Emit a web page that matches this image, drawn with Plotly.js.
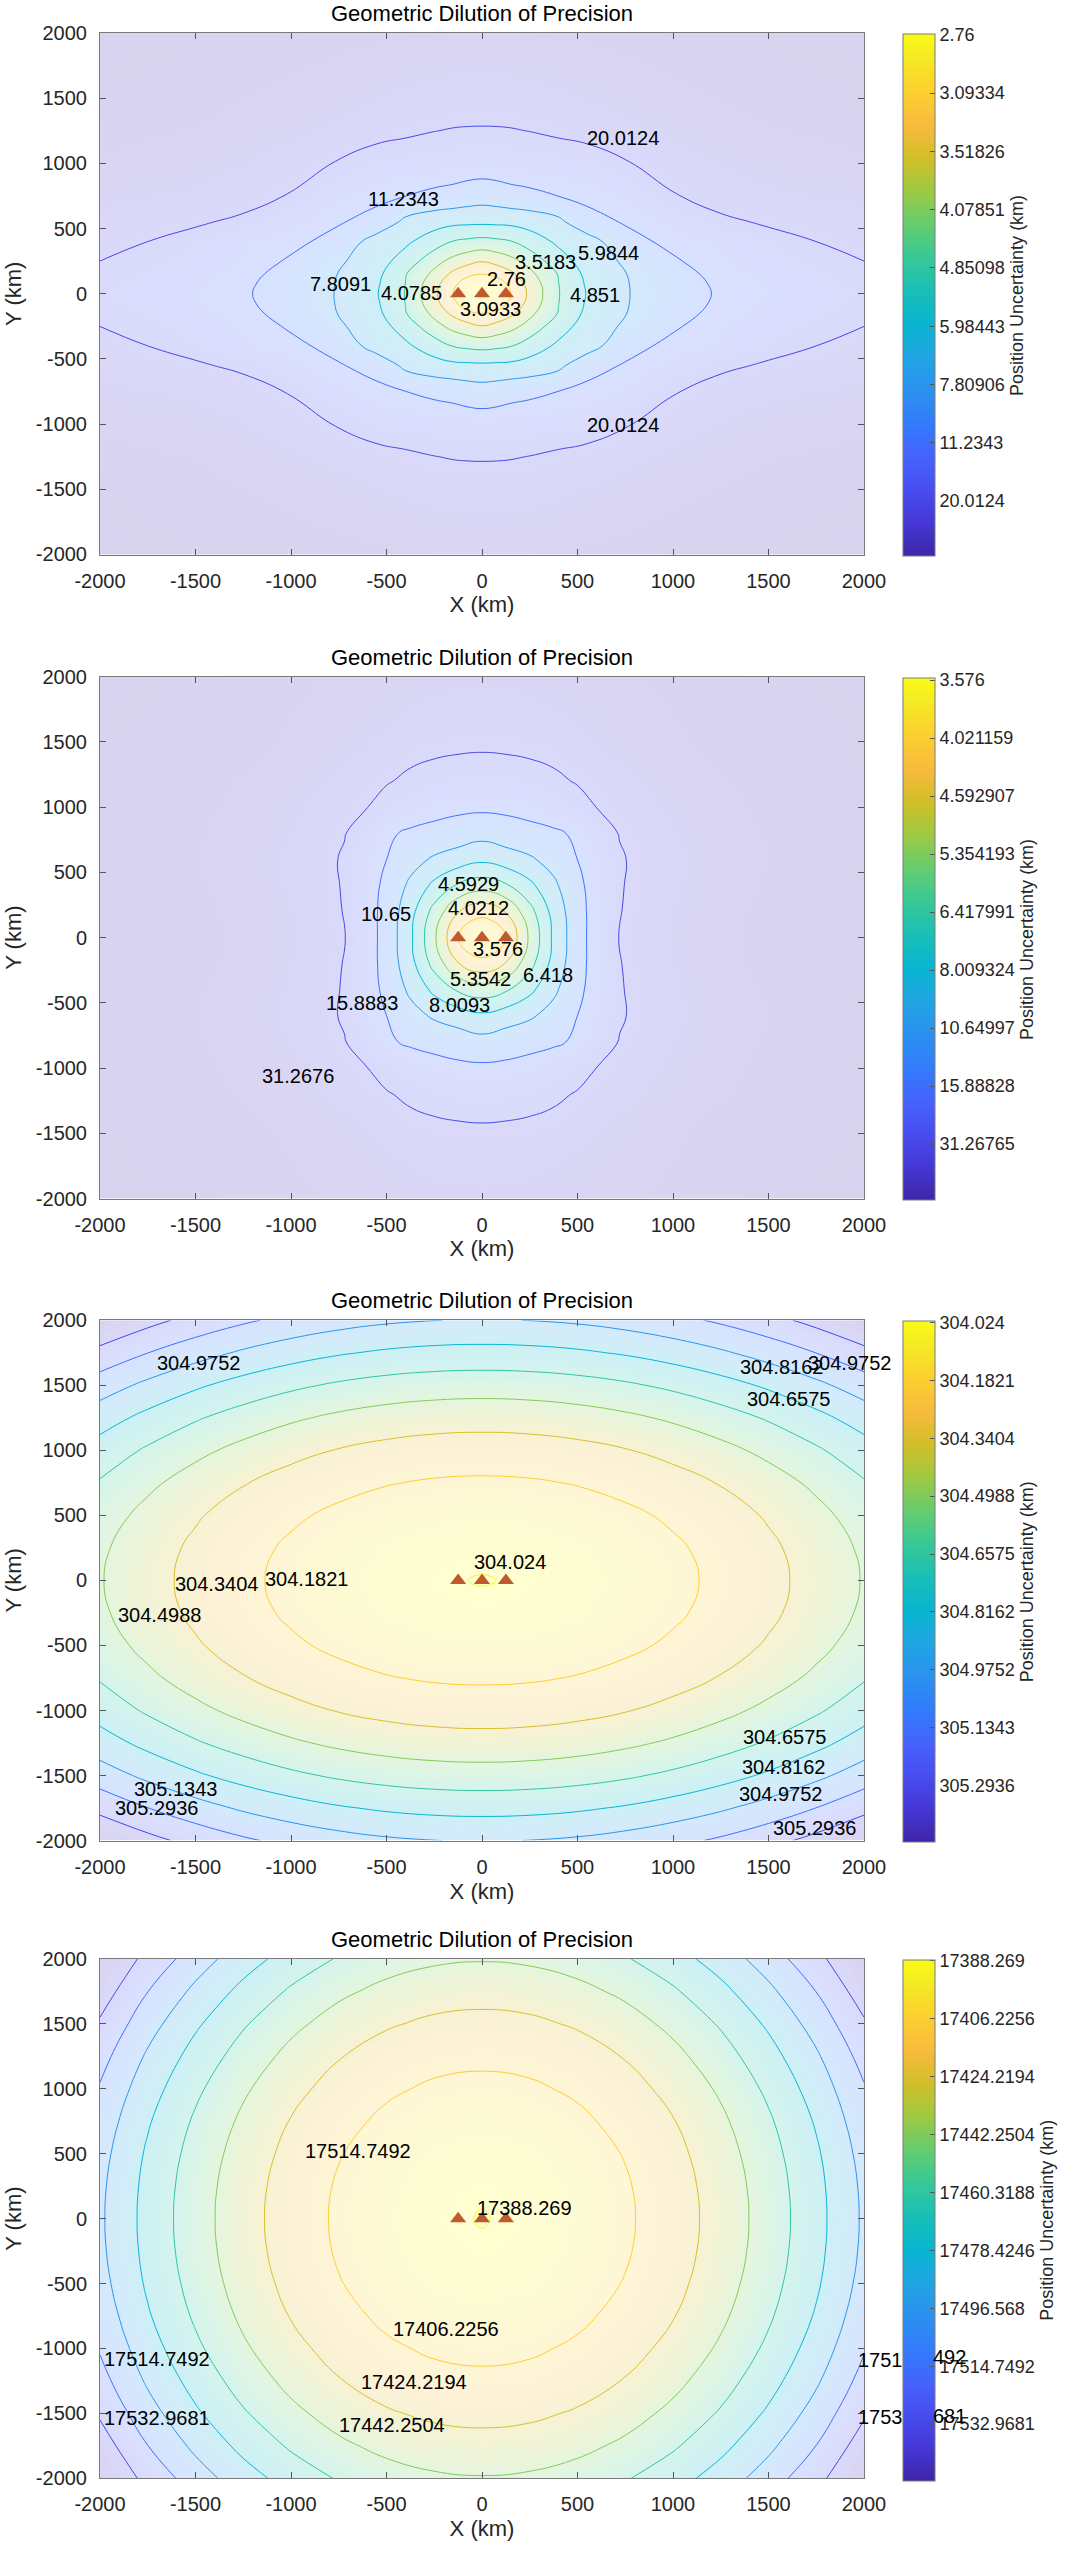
<!DOCTYPE html>
<html>
<head>
<meta charset="utf-8">
<script src="https://cdn.plot.ly/plotly-3.0.1.min.js"></script>
<style>html,body{margin:0;padding:0;background:#fff}#chart{width:1070px;height:2551px}</style>
</head>
<body>
<div id="chart"></div>
<script>
// ---------------- DATA ----------------
const axisTicks = [-2000,-1500,-1000,-500,0,500,1000,1500,2000];
const axisTickText = ['-2000','-1500','-1000','-500','0','500','1000','1500','2000'];
const sensorX = [-125, 0, 125];
const sensorY = [0, 0, 0];
const chartTitle = 'Geometric Dilution of Precision';
const colorbarTitle = 'Position Uncertainty (km)';

// Panel 1: GDOP (km) read on a grid
const gridX1 = [-2000,-1500,-1250,-1000,-750,-550,-400,-250,-150,-75,0,75,150,250,400,550,750,1000,1250,1500,2000];
const gridY1 = [-2000,-1500,-1250,-1000,-750,-550,-400,-250,-150,-75,0,75,150,250,400,550,750,1000,1250,1500,2000];
const gdop1 = [
[77.69,67.463,62.52,58.251,53.398,50.251,47.459,45.763,44.185,44.185,44.185,44.185,44.185,45.763,47.459,50.251,53.398,58.251,62.52,67.463,77.69],
[64.082,53.398,45.763,40.675,35.101,30.87,28.468,26.969,26.144,26.144,26.144,26.144,26.144,26.969,28.468,30.87,35.101,40.675,45.763,53.398,64.082],
[53.398,44.185,37.685,32.851,27.55,23.723,21.711,20.172,19.556,19.334,19.262,19.334,19.556,20.172,21.711,23.723,27.55,32.851,37.685,44.185,53.398],
[42.71,35.101,30.87,26.144,19.262,16.214,15.716,15.248,14.807,14.473,14.392,14.473,14.807,15.248,15.716,16.214,19.262,26.144,30.87,35.101,42.71],
[32.851,29.116,26.144,19.262,14.075,12.169,11.27,10.329,9.89,9.362,9.051,9.362,9.89,10.329,11.27,12.169,14.075,19.262,26.144,29.116,32.851],
[27.55,21.529,17.915,14.392,11.518,10.073,7.256,6.568,6.34,6.278,6.247,6.278,6.34,6.568,7.256,10.073,11.518,14.392,17.915,21.529,27.55],
[24.874,16.743,13.847,12.169,10.157,6.776,6.232,5.359,4.806,4.674,4.59,4.674,4.806,5.359,6.232,6.776,10.157,12.169,13.847,16.743,24.874],
[20.0,15.716,13.273,10.819,8.184,6.602,5.473,4.319,3.893,3.685,3.543,3.685,3.893,4.319,5.473,6.602,8.184,10.819,13.273,15.716,20.0],
[18.837,14.392,12.532,9.928,7.738,6.34,4.897,3.922,3.401,3.178,3.086,3.178,3.401,3.922,4.897,6.34,7.738,9.928,12.532,14.392,18.837],
[17.915,13.922,11.914,9.74,7.669,6.157,4.833,3.696,3.174,2.917,2.833,2.917,3.174,3.696,4.833,6.157,7.669,9.74,11.914,13.922,17.915],
[17.31,13.626,11.697,9.666,7.646,6.055,4.806,3.618,3.093,2.836,2.758,2.836,3.093,3.618,4.806,6.055,7.646,9.666,11.697,13.626,17.31],
[17.915,13.922,11.914,9.74,7.669,6.157,4.833,3.696,3.174,2.917,2.833,2.917,3.174,3.696,4.833,6.157,7.669,9.74,11.914,13.922,17.915],
[18.837,14.392,12.532,9.928,7.738,6.34,4.897,3.922,3.401,3.178,3.086,3.178,3.401,3.922,4.897,6.34,7.738,9.928,12.532,14.392,18.837],
[20.0,15.716,13.273,10.819,8.184,6.602,5.473,4.319,3.893,3.685,3.543,3.685,3.893,4.319,5.473,6.602,8.184,10.819,13.273,15.716,20.0],
[24.874,16.743,13.847,12.169,10.157,6.776,6.232,5.359,4.806,4.674,4.59,4.674,4.806,5.359,6.232,6.776,10.157,12.169,13.847,16.743,24.874],
[27.55,21.529,17.915,14.392,11.518,10.073,7.256,6.568,6.34,6.278,6.247,6.278,6.34,6.568,7.256,10.073,11.518,14.392,17.915,21.529,27.55],
[32.851,29.116,26.144,19.262,14.075,12.169,11.27,10.329,9.89,9.362,9.051,9.362,9.89,10.329,11.27,12.169,14.075,19.262,26.144,29.116,32.851],
[42.71,35.101,30.87,26.144,19.262,16.214,15.716,15.248,14.807,14.473,14.392,14.473,14.807,15.248,15.716,16.214,19.262,26.144,30.87,35.101,42.71],
[53.398,44.185,37.685,32.851,27.55,23.723,21.711,20.172,19.556,19.334,19.262,19.334,19.556,20.172,21.711,23.723,27.55,32.851,37.685,44.185,53.398],
[64.082,53.398,45.763,40.675,35.101,30.87,28.468,26.969,26.144,26.144,26.144,26.144,26.144,26.969,28.468,30.87,35.101,40.675,45.763,53.398,64.082],
[77.69,67.463,62.52,58.251,53.398,50.251,47.459,45.763,44.185,44.185,44.185,44.185,44.185,45.763,47.459,50.251,53.398,58.251,62.52,67.463,77.69]
];
const levels1 = ['2.76','3.09334','3.51826','4.07851','4.85098','5.98443','7.80906','11.2343','20.0124'];
const labels1 = ['20.0124','11.2343','7.8091','4.0785','2.76','3.5183','5.9844','4.851','3.0933','20.0124'];

// Panel 2
const gridX2 = [-2000,-1600,-1200,-900,-720,-600,-500,-375,-250,-125,0,125,250,375,500,600,720,900,1200,1600,2000];
const gridY2 = [-2000,-1700,-1450,-1200,-1000,-800,-600,-400,-200,0,200,400,600,800,1000,1200,1450,1700,2000];
const gdop2 = [
[507.6,220.12,151.03,112.17,94.19,84.417,77.628,70.882,66.063,63.171,62.208,63.171,66.063,70.882,77.628,84.417,94.19,112.17,151.03,220.12,507.6],
[291.72,202.84,133.78,94.913,76.923,67.155,60.365,53.622,48.802,45.91,44.946,45.91,48.802,53.622,60.365,67.155,76.923,94.913,133.78,202.84,291.72],
[279.41,190.62,121.52,82.665,64.675,54.903,48.119,36.64,34.54,33.327,32.697,33.327,34.54,36.64,48.119,54.903,64.675,82.665,121.52,190.62,279.41],
[231.37,155.02,95.621,62.208,46.744,38.345,32.511,28.49,26.035,24.414,23.607,24.414,26.035,28.49,32.511,38.345,46.744,62.208,95.621,155.02,231.37],
[217.25,143.66,86.453,54.262,39.365,31.447,26.254,22.267,18.692,17.699,17.382,17.699,18.692,22.267,26.254,31.447,39.365,54.262,86.453,143.66,217.25],
[204.16,133.51,78.561,47.653,32.157,23.578,17.094,14.815,14.047,12.961,12.031,12.961,14.047,14.815,17.094,23.578,32.157,47.653,78.561,133.51,204.16],
[193.61,125.45,72.443,42.629,29.382,19.715,15.92,12.133,10.193,9.238,8.448,9.238,10.193,12.133,15.92,19.715,29.382,42.629,72.443,125.45,193.61],
[212.22,136.57,77.754,44.665,29.829,19.124,14.518,9.997,7.564,6.271,5.797,6.271,7.564,9.997,14.518,19.124,29.829,44.665,77.754,136.57,212.22],
[234.08,150.04,84.653,47.872,30.51,19.259,13.768,8.758,6.001,4.627,4.186,4.627,6.001,8.758,13.768,19.259,30.51,47.872,84.653,150.04,234.08],
[246.73,157.93,88.834,49.965,31.977,19.516,13.61,8.411,5.501,4.009,3.565,4.009,5.501,8.411,13.61,19.516,31.977,49.965,88.834,157.93,246.73],
[234.08,150.04,84.653,47.872,30.51,19.259,13.768,8.758,6.001,4.627,4.186,4.627,6.001,8.758,13.768,19.259,30.51,47.872,84.653,150.04,234.08],
[212.22,136.57,77.754,44.665,29.829,19.124,14.518,9.997,7.564,6.271,5.797,6.271,7.564,9.997,14.518,19.124,29.829,44.665,77.754,136.57,212.22],
[193.61,125.45,72.443,42.629,29.382,19.715,15.92,12.133,10.193,9.238,8.448,9.238,10.193,12.133,15.92,19.715,29.382,42.629,72.443,125.45,193.61],
[204.16,133.51,78.561,47.653,32.157,23.578,17.094,14.815,14.047,12.961,12.031,12.961,14.047,14.815,17.094,23.578,32.157,47.653,78.561,133.51,204.16],
[217.25,143.66,86.453,54.262,39.365,31.447,26.254,22.267,18.692,17.699,17.382,17.699,18.692,22.267,26.254,31.447,39.365,54.262,86.453,143.66,217.25],
[231.37,155.02,95.621,62.208,46.744,38.345,32.511,28.49,26.035,24.414,23.607,24.414,26.035,28.49,32.511,38.345,46.744,62.208,95.621,155.02,231.37],
[279.41,190.62,121.52,82.665,64.675,54.903,48.119,36.64,34.54,33.327,32.697,33.327,34.54,36.64,48.119,54.903,64.675,82.665,121.52,190.62,279.41],
[291.72,202.84,133.78,94.913,76.923,67.155,60.365,53.622,48.802,45.91,44.946,45.91,48.802,53.622,60.365,67.155,76.923,94.913,133.78,202.84,291.72],
[507.6,220.12,151.03,112.17,94.19,84.417,77.628,70.882,66.063,63.171,62.208,63.171,66.063,70.882,77.628,84.417,94.19,112.17,151.03,220.12,507.6]
];
const levels2 = ['3.576','4.021159','4.592907','5.354193','6.417991','8.009324','10.64997','15.88828','31.26765'];
const labels2 = ['4.5929','4.0212','10.65','3.576','5.3542','6.418','15.8883','8.0093','31.2676'];

// Panel 3
const gridX3 = [-2000,-1750,-1500,-1250,-1000,-750,-500,-250,0,250,500,750,1000,1250,1500,1750,2000];
const gridY3 = [-2000,-1750,-1500,-1250,-1000,-750,-500,-250,0,250,500,750,1000,1250,1500,1750,2000];
const gdop3 = [
[305.4498,305.342,305.2429,305.1591,305.0905,305.0372,304.9992,304.9765,304.9688,304.9765,304.9992,305.0372,305.0905,305.1591,305.2429,305.342,305.4498],
[305.2502,305.1362,305.0372,304.9536,304.8851,304.8318,304.7939,304.7711,304.7635,304.7711,304.7939,304.8318,304.8851,304.9536,305.0372,305.1362,305.2502],
[305.0531,304.9393,304.8404,304.7569,304.6884,304.6353,304.5973,304.5747,304.567,304.5747,304.5973,304.6353,304.6884,304.7569,304.8404,304.9393,305.0531],
[304.8863,304.7726,304.6738,304.5904,304.522,304.4689,304.431,304.4086,304.4008,304.4086,304.431,304.4689,304.522,304.5904,304.6738,304.7726,304.8863],
[304.7502,304.6365,304.5379,304.4545,304.3862,304.3331,304.2953,304.2726,304.265,304.2726,304.2953,304.3331,304.3862,304.4545,304.5379,304.6365,304.7502],
[304.6443,304.5307,304.4321,304.3488,304.2806,304.2275,304.1897,304.1671,304.1595,304.1671,304.1897,304.2275,304.2806,304.3488,304.4321,304.5307,304.6443],
[304.5688,304.4553,304.3567,304.2734,304.2052,304.1522,304.1144,304.0918,304.0842,304.0918,304.1144,304.1522,304.2052,304.2734,304.3567,304.4553,304.5688],
[304.5234,304.41,304.3114,304.2282,304.16,304.107,304.0692,304.0466,304.039,304.0466,304.0692,304.107,304.16,304.2282,304.3114,304.41,304.5234],
[304.5084,304.3949,304.2964,304.2131,304.1449,304.092,304.0542,304.0316,304.0208,304.0316,304.0542,304.092,304.1449,304.2131,304.2964,304.3949,304.5084],
[304.5234,304.41,304.3114,304.2282,304.16,304.107,304.0692,304.0466,304.039,304.0466,304.0692,304.107,304.16,304.2282,304.3114,304.41,304.5234],
[304.5688,304.4553,304.3567,304.2734,304.2052,304.1522,304.1144,304.0918,304.0842,304.0918,304.1144,304.1522,304.2052,304.2734,304.3567,304.4553,304.5688],
[304.6443,304.5307,304.4321,304.3488,304.2806,304.2275,304.1897,304.1671,304.1595,304.1671,304.1897,304.2275,304.2806,304.3488,304.4321,304.5307,304.6443],
[304.7502,304.6365,304.5379,304.4545,304.3862,304.3331,304.2953,304.2726,304.265,304.2726,304.2953,304.3331,304.3862,304.4545,304.5379,304.6365,304.7502],
[304.8863,304.7726,304.6738,304.5904,304.522,304.4689,304.431,304.4086,304.4008,304.4086,304.431,304.4689,304.522,304.5904,304.6738,304.7726,304.8863],
[305.0531,304.9393,304.8404,304.7569,304.6884,304.6353,304.5973,304.5747,304.567,304.5747,304.5973,304.6353,304.6884,304.7569,304.8404,304.9393,305.0531],
[305.2502,305.1362,305.0372,304.9536,304.8851,304.8318,304.7939,304.7711,304.7635,304.7711,304.7939,304.8318,304.8851,304.9536,305.0372,305.1362,305.2502],
[305.4498,305.342,305.2429,305.1591,305.0905,305.0372,304.9992,304.9765,304.9688,304.9765,304.9992,305.0372,305.0905,305.1591,305.2429,305.342,305.4498]
];
const levels3 = ['304.024','304.1821','304.3404','304.4988','304.6575','304.8162','304.9752','305.1343','305.2936'];
const labels3 = ['304.9752','304.8162','304.9752','304.6575','304.024','304.3404','304.1821','304.4988','304.6575','304.8162','305.1343','304.9752','305.2936','305.2936'];

// Panel 4
const gridX4 = [-2000,-1750,-1500,-1250,-1000,-750,-500,-250,0,250,500,750,1000,1250,1500,1750,2000];
const gridY4 = [-2000,-1750,-1500,-1250,-1000,-750,-500,-250,0,250,500,750,1000,1250,1500,1750,2000];
const gdop4 = [
[17550.858,17528.011,17505.476,17486.426,17470.893,17458.822,17450.218,17445.052,17443.337,17445.052,17450.218,17458.822,17470.893,17486.426,17505.476,17528.011,17550.858],
[17541.982,17514.971,17492.469,17473.446,17457.936,17445.883,17437.292,17432.134,17430.421,17432.134,17437.292,17445.883,17457.936,17473.446,17492.469,17514.971,17541.982],
[17530.636,17503.658,17481.185,17462.187,17446.696,17434.658,17426.078,17420.926,17419.216,17420.926,17426.078,17434.658,17446.696,17462.187,17481.185,17503.658,17530.636],
[17521.051,17494.103,17471.653,17452.675,17437.201,17425.177,17416.606,17411.46,17409.751,17411.46,17416.606,17425.177,17437.201,17452.675,17471.653,17494.103,17521.051],
[17513.206,17486.281,17463.851,17444.89,17429.43,17417.416,17408.852,17403.711,17402.004,17403.711,17408.852,17417.416,17429.43,17444.89,17463.851,17486.281,17513.206],
[17507.112,17480.206,17457.791,17438.843,17423.394,17411.388,17402.83,17397.692,17395.986,17397.692,17402.83,17411.388,17423.394,17438.843,17457.791,17480.206,17507.112],
[17502.768,17475.874,17453.471,17434.532,17419.09,17407.09,17398.536,17393.401,17391.696,17393.401,17398.536,17407.09,17419.09,17434.532,17453.471,17475.874,17502.768],
[17500.169,17473.283,17450.886,17431.953,17416.515,17404.519,17395.968,17390.835,17389.13,17390.835,17395.968,17404.519,17416.515,17431.953,17450.886,17473.283,17500.169],
[17499.297,17472.414,17450.019,17431.088,17415.652,17403.657,17395.107,17389.974,17387.91,17389.974,17395.107,17403.657,17415.652,17431.088,17450.019,17472.414,17499.297],
[17500.169,17473.283,17450.886,17431.953,17416.515,17404.519,17395.968,17390.835,17389.13,17390.835,17395.968,17404.519,17416.515,17431.953,17450.886,17473.283,17500.169],
[17502.768,17475.874,17453.471,17434.532,17419.09,17407.09,17398.536,17393.401,17391.696,17393.401,17398.536,17407.09,17419.09,17434.532,17453.471,17475.874,17502.768],
[17507.112,17480.206,17457.791,17438.843,17423.394,17411.388,17402.83,17397.692,17395.986,17397.692,17402.83,17411.388,17423.394,17438.843,17457.791,17480.206,17507.112],
[17513.206,17486.281,17463.851,17444.89,17429.43,17417.416,17408.852,17403.711,17402.004,17403.711,17408.852,17417.416,17429.43,17444.89,17463.851,17486.281,17513.206],
[17521.051,17494.103,17471.653,17452.675,17437.201,17425.177,17416.606,17411.46,17409.751,17411.46,17416.606,17425.177,17437.201,17452.675,17471.653,17494.103,17521.051],
[17530.636,17503.658,17481.185,17462.187,17446.696,17434.658,17426.078,17420.926,17419.216,17420.926,17426.078,17434.658,17446.696,17462.187,17481.185,17503.658,17530.636],
[17541.982,17514.971,17492.469,17473.446,17457.936,17445.883,17437.292,17432.134,17430.421,17432.134,17437.292,17445.883,17457.936,17473.446,17492.469,17514.971,17541.982],
[17550.858,17528.011,17505.476,17486.426,17470.893,17458.822,17450.218,17445.052,17443.337,17445.052,17450.218,17458.822,17470.893,17486.426,17505.476,17528.011,17550.858]
];
const levels4 = ['17388.269','17406.2256','17424.2194','17442.2504','17460.3188','17478.4246','17496.568','17514.7492','17532.9681'];
const labels4 = ['17514.7492','17388.269','17406.2256','17424.2194','17442.2504','17514.7492','17532.9681'];
const clippedLabels4 = ['1751','492','1753','681'];

// ---------------- PLACEMENT / STYLE ----------------
const FONT = 'Liberation Sans, Arial, Helvetica, sans-serif';
const geom = {
  xDomain: [0.093458, 0.807477],
  yDomains: [[0.782634, 0.987064], [0.530145, 0.734732], [0.278479, 0.482477], [0.028499, 0.232066]],
  titleY: [0.994512, 0.742179, 0.490083, 0.239592],
  titleX: 0.450467,
  cbX: 0.8435,
  cbY: [0.88420, 0.63175, 0.37993, 0.12963],
  cbLen: [522, 522, 521, 521],
  labelPos: [
    [[740,1192],[-412,727],[-743,75],[-368,3],[129,111],[330,246],[661,310],[592,-10],[42,-117],[740,-1007]],
    [[-72,411],[-19,230],[-503,181],[85,-89],[-10,-319],[347,-286],[-630,-498],[-119,-516],[-962,-1061]],
    [[-1485,1673],[1568,1641],[1925,1672],[1604,1398],[147,144],[-1389,-28],[-921,8],[-1690,-266],[1586,-1201],[1579,-1438],[-1607,-1606],[1561,-1641],[-1703,-1752],[1740,-1900]],
    [[-651,520],[223,85],[-187,-850],[-355,-1260],[-473,-1591],[-1704,-1080],[-1704,-1537]]
  ],
  clippedPos: [[0.822897,0.074873],[0.88757,0.075853],[0.822897,0.052528],[0.886916,0.053116]]
};

const parula = [
 [0,[62,38,168]],[0.0635,[69,55,213]],[0.127,[72,77,240]],[0.1905,[69,99,253]],[0.254,[50,124,252]],
 [0.3175,[43,145,239]],[0.381,[32,165,227]],[0.444,[8,181,208]],[0.508,[25,191,182]],[0.571,[55,200,151]],
 [0.635,[100,205,111]],[0.698,[157,201,67]],[0.762,[209,191,39]],[0.825,[248,186,61]],[0.889,[252,207,48]],
 [0.952,[245,233,36]],[1,[249,251,21]]
];
const toScale = arr => arr.map(([t, c]) => [t, 'rgb(' + c.join(',') + ')']);
function rgbAt(t) {
  for (let i = 0; i < parula.length - 1; i++) {
    const [t0, c0] = parula[i], [t1, c1] = parula[i + 1];
    if (t >= t0 && t <= t1) {
      const f = (t - t0) / (t1 - t0);
      return c0.map((v, j) => Math.round(v + (c1[j] - v) * f));
    }
  }
  return parula[parula.length - 1][1];
}
function subScale(t0) {
  t0 = Math.max(0, Math.min(0.99, t0));
  const out = [[0, rgbAt(t0)]];
  parula.forEach(([t, c]) => { if (t > t0 + 1e-9) out.push([(t - t0) / (1 - t0), c]); });
  return toScale(out);
}

const panels = [
  {x: gridX1, y: gridY1, z: gdop1, levels: levels1, labels: labels1},
  {x: gridX2, y: gridY2, z: gdop2, levels: levels2, labels: labels2},
  {x: gridX3, y: gridY3, z: gdop3, levels: levels3, labels: labels3},
  {x: gridX4, y: gridY4, z: gdop4, levels: levels4, labels: labels4}
];

const traces = [];
const annotations = [];
const layout = {
  width: 1070, height: 2551,
  margin: {l: 0, r: 0, t: 0, b: 0},
  paper_bgcolor: '#ffffff', plot_bgcolor: '#ffffff',
  showlegend: false,
  font: {family: FONT, color: '#262626'},
  annotations: annotations
};

panels.forEach((p, i) => {
  const n = i === 0 ? '' : String(i + 1);
  const xa = 'x' + n, ya = 'y' + n;
  const zp = p.z.map(r => r.map(v => 1 / v));
  const flat = zp.flat();
  const zmin = Math.min(...flat), zmax = Math.max(...flat);
  const lv = p.levels.map(s => 1 / parseFloat(s));
  const lmin = Math.min(...lv), lmax = Math.max(...lv);
  const step = (lmax - lmin) / (lv.length - 1);

  traces.push({
    type: 'heatmap', x: p.x, y: p.y, z: zp, xaxis: xa, yaxis: ya,
    zsmooth: 'best', zmin: zmin, zmax: zmax, zauto: false,
    colorscale: toScale(parula), opacity: 0.2, hoverinfo: 'skip',
    colorbar: {
      x: geom.cbX, xanchor: 'left', xpad: 0,
      y: geom.cbY[i], yanchor: 'middle', ypad: 0,
      len: geom.cbLen[i], lenmode: 'pixels',
      thickness: 32, thicknessmode: 'pixels',
      outlinewidth: 1, outlinecolor: '#7a7a7a',
      tickmode: 'array', tickvals: lv, ticktext: p.levels,
      ticks: 'inside', ticklen: 5, tickwidth: 1, tickcolor: '#555555',
      tickfont: {family: FONT, size: 18, color: '#262626'},
      title: {text: colorbarTitle, side: 'right', font: {family: FONT, size: 18, color: '#262626'}}
    }
  });
  traces.push({
    type: 'contour', x: p.x, y: p.y, z: zp, xaxis: xa, yaxis: ya,
    autocontour: false,
    contours: {start: lmin, end: lmax + step * 0.001, size: step, coloring: 'lines', showlabels: false},
    colorscale: subScale((lmin - zmin) / (zmax - zmin)),
    showscale: false,
    line: {width: 1, smoothing: 1.3},
    hoverinfo: 'skip'
  });
  traces.push({
    type: 'scatter', mode: 'markers', x: sensorX, y: sensorY, xaxis: xa, yaxis: ya,
    marker: {symbol: 'triangle-up', size: 14, color: '#c0592b', line: {width: 0}},
    hoverinfo: 'skip', showlegend: false
  });

  const axCommon = {
    range: [-2000, 2000], tickmode: 'array', tickvals: axisTicks, ticktext: axisTickText,
    ticks: 'inside', ticklen: 6, tickwidth: 1, tickcolor: '#555555',
    showline: true, linecolor: '#7a7a7a', linewidth: 1, mirror: 'ticks',
    showgrid: false, zeroline: false, automargin: false, fixedrange: true,
    tickfont: {family: FONT, size: 20, color: '#262626'},
    ticklabelstandoff: 8
  };
  layout['xaxis' + n] = Object.assign({}, axCommon, {
    domain: geom.xDomain, anchor: ya,
    title: {text: 'X (km)', font: {family: FONT, size: 22, color: '#262626'}, standoff: 6}
  });
  layout['yaxis' + n] = Object.assign({}, axCommon, {
    domain: geom.yDomains[i], anchor: xa,
    title: {text: 'Y (km)', font: {family: FONT, size: 22, color: '#262626'}, standoff: 8}
  });

  annotations.push({
    xref: 'paper', yref: 'paper', x: geom.titleX, y: geom.titleY[i],
    xanchor: 'center', yanchor: 'middle', showarrow: false,
    text: chartTitle, font: {family: FONT, size: 22, color: '#000000'}
  });
  p.labels.forEach((txt, j) => {
    const pos = geom.labelPos[i][j];
    annotations.push({
      xref: xa, yref: ya, x: pos[0], y: pos[1], xanchor: 'center', yanchor: 'middle',
      showarrow: false, text: txt, font: {family: FONT, size: 20, color: '#000000'}
    });
  });
});

clippedLabels4.forEach((txt, j) => {
  const pos = geom.clippedPos[j];
  annotations.push({
    xref: 'paper', yref: 'paper', x: pos[0], y: pos[1], xanchor: 'center', yanchor: 'middle',
    showarrow: false, text: txt, font: {family: FONT, size: 20, color: '#000000'}
  });
});

Plotly.newPlot('chart', traces, layout, {staticPlot: true, displayModeBar: false});
</script>
</body>
</html>
